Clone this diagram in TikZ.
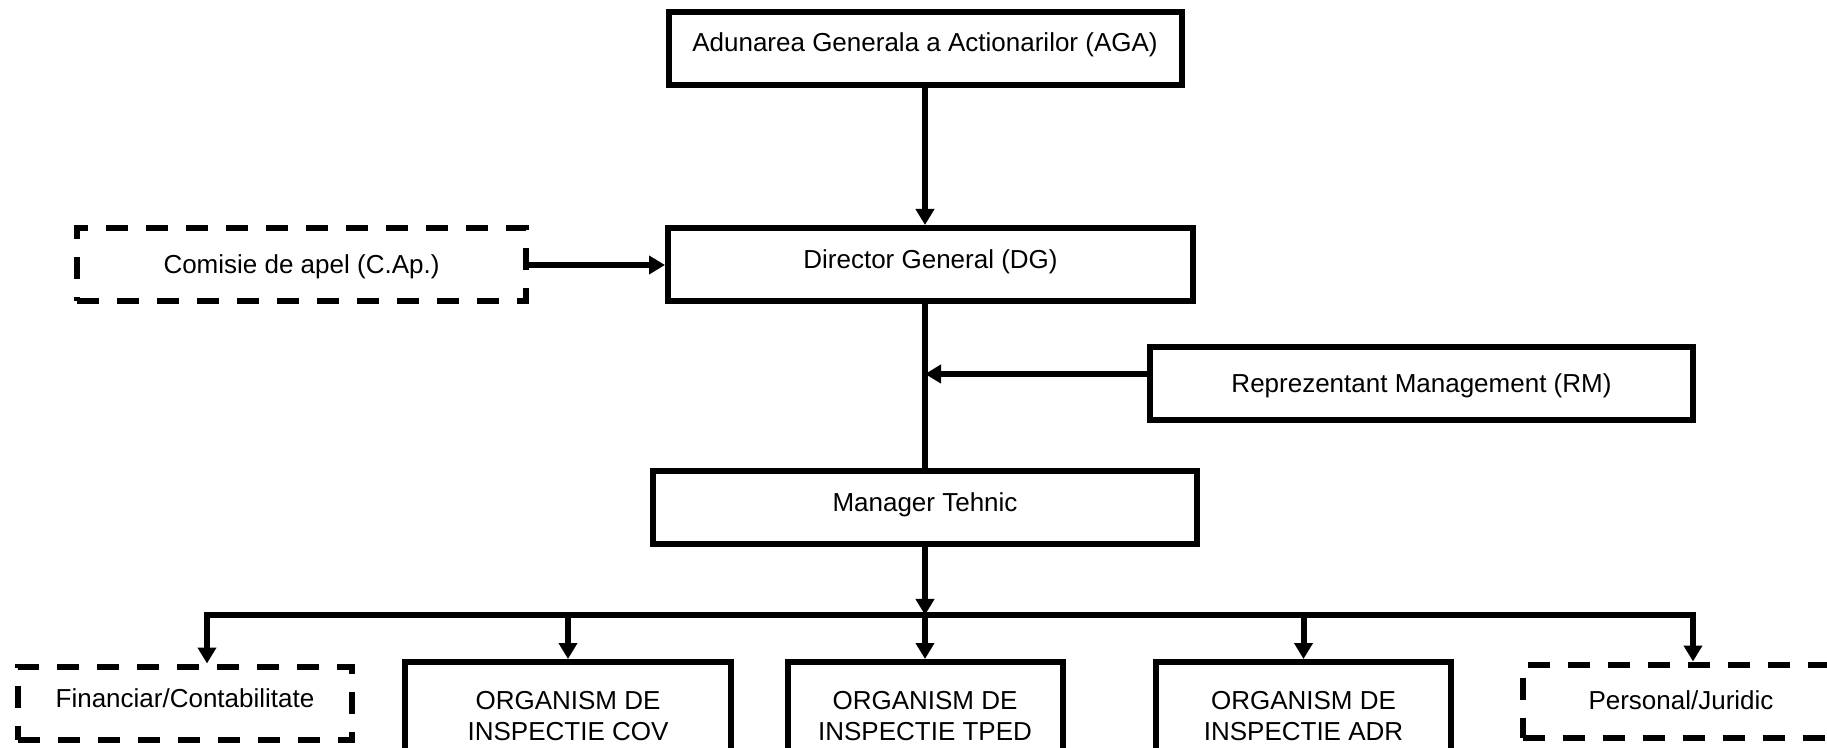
\documentclass[tikz,border=0pt]{standalone}
\usepackage{fontspec}
\setmainfont{Liberation Sans}
\usetikzlibrary{arrows.meta}

\begin{document}
\begin{tikzpicture}[x=0.5pt,y=-0.5pt,
  box/.style={draw,line width=3pt,inner sep=0pt,text height=20.5pt,text depth=16pt,font=\fontsize{13}{15.5}\selectfont},
  midbox/.style={box,text height=22.5pt,text depth=14pt},
  dashbox/.style={box,dash pattern=on 11pt off 9pt},
  twobox/.style={draw,line width=3pt,inner sep=0pt,align=center,minimum height=53.6pt,font=\fontsize{13}{15.5}\selectfont},
  conn/.style={line width=3pt,-{Triangle[width=9pt,length=8pt]}}]

\useasboundingbox (0,0) rectangle (1827,748);

\node[box,minimum width=256.5pt,text height=19.5pt,text depth=17pt] (aga) at (925,49) {Adunarea Generala a Actionarilor (AGA)};
\node[box,minimum width=262.5pt] (dg) at (930.5,264.5) {Director General (DG)};
\node[dashbox,midbox,minimum width=224.5pt] (cap) at (301.5,265) {Comisie de apel (C.Ap.)};
\node[midbox,minimum width=271.5pt] (rm) at (1421.5,384) {Reprezentant Management (RM)};
\node[box,minimum width=272pt] (mt) at (925,507.5) {Manager Tehnic};

\node[dashbox,minimum width=167pt] (fin) at (185,703) {Financiar/Contabilitate};
\node[twobox,minimum width=163pt] (cov) at (568,715.6) {ORGANISM DE\\INSPECTIE COV};
\node[twobox,minimum width=137.5pt] (tped) at (925,715.6) {ORGANISM DE\\INSPECTIE TPED};
\node[twobox,minimum width=147.5pt] (adr) at (1303.5,715.6) {ORGANISM DE\\INSPECTIE ADR};
\node[dashbox,midbox,minimum width=158.5pt] (per) at (1681,701) {Personal/Juridic};

\coordinate (bus) at (925,615);
\coordinate (busL) at (207,615);
\coordinate (busR) at (1693,615);

\draw[conn] (aga.south) -- (aga.south |- dg.north);
\draw[conn] (cap.east) -- (cap.east -| dg.west);
\draw[line width=3pt] (aga.south |- dg.south) -- (mt.north);
\draw[conn] ([yshift=5pt]rm.west) -- ([yshift=5pt]rm.west -| mt.north);

\draw[conn] (mt.south) -- (bus);
\draw[conn] (bus) -| (fin.north -| busL);
\draw[conn] (bus) -| (per.north -| busR);
\draw[conn] (bus -| cov.north) -- (cov.north);
\draw[conn] (bus) -- (tped.north);
\draw[conn] (bus -| adr.north) -- (adr.north);

\end{tikzpicture}
\end{document}
